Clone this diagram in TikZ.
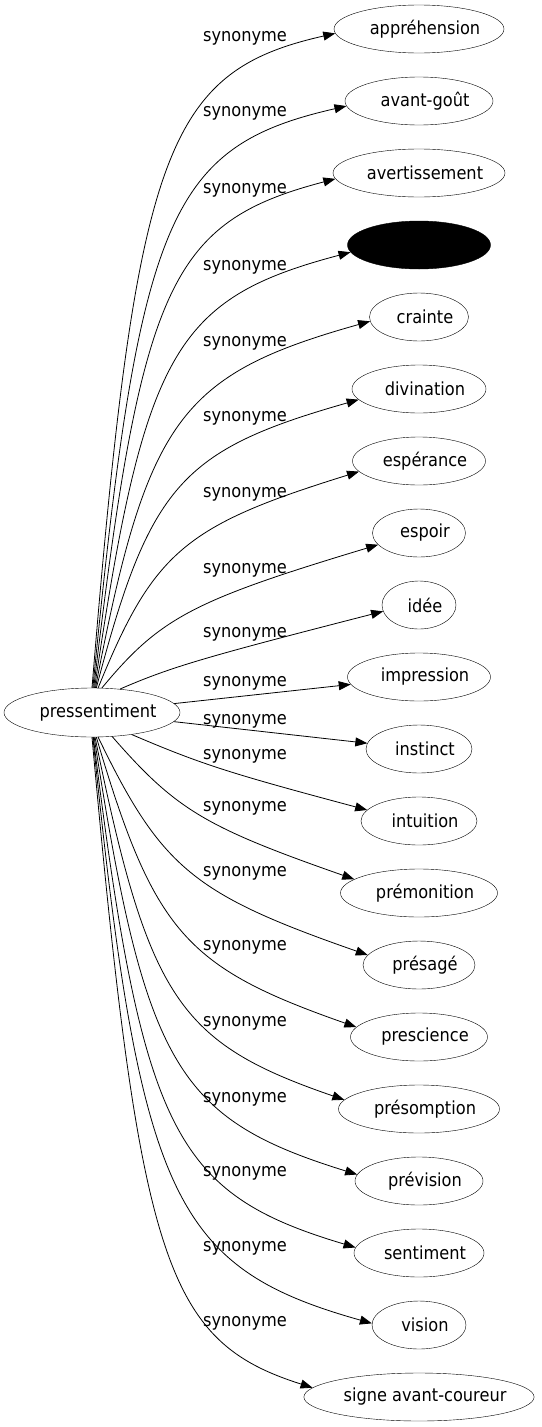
\documentclass[tikz,border=0pt]{standalone}
\usepackage{fontspec}
\setmainfont{DejaVu Sans}[FakeStretch=0.9]
\usetikzlibrary{shapes.geometric,arrows.meta,calc}

\tikzset{
  syn/.style={draw,ellipse,inner sep=0pt,minimum height=48pt,font=\fontsize{18}{20}\selectfont,
    execute at begin node=\hspace*{6pt},execute at end node=\hspace*{-6pt}},
  lbl/.style={inner sep=0pt,yshift=-2pt,font=\fontsize{18}{20}\selectfont},
  edge/.style={line width=0.8pt,-{Triangle[length=12pt,width=9pt]}}
}

\begin{document}
\begin{tikzpicture}[x=1pt,y=-1pt]
\useasboundingbox (0,0) rectangle (541,1427);

\node[syn,minimum width=176pt,minimum height=49pt] (c) at (92,712.5) {pressentiment};

\foreach \txt/\w/\f [count=\n] in {appréhension/170/white,avant-goût/148/white,avertissement/172/white,{}/143/black,crainte/99/white,divination/134/white,espérance/133/white,espoir/93/white,idée/74/white,impression/143/white,instinct/106/white,intuition/116/white,prémonition/157/white,présagé/112/white,prescience/137/white,présomption/161/white,prévision/128/white,sentiment/130/white,vision/94/white,signe avant-coureur/229/white}
  \node[syn,fill=\f,minimum width=\w pt] (N\n) at (419,{29+72*(\n-1)}) {\txt};

\foreach \ly [count=\n] in {36.7,111.7,188.3,265,341.7,416.7,492.7,568.3,632.7,681.7,719,754,806,871.7,945,1021,1097,1171.7,1246,1321}
  \node[lbl] (L\n) at (245,\ly) {synonyme};

\foreach \n/\sa/\ea/\cx/\cy in {1/90/183/142/77,2/88/184/145/152,3/86/184/148/228,4/84/186/151/305,5/82/185/154/382,6/80/190/157/457,7/76/190/161/533,8/68/196/168/608,9/40/190/178/664,12/331/168/210/768,13/310/168/185/820,14/284/169/170/886,15/280/171/162/959,16/277/173/156/1035,17/275/174/152/1111,18/273/175/149/1186,19/272/178/146/1260,20/270/175/146/1335}
  \draw[edge] (c.\sa) .. controls ($(c.\sa)!0.88!(\cx,\cy)$) and ($(N\n.\ea)!0.88!(\cx,\cy)$) .. (N\n.\ea);

\draw[edge] (c) -- (N10);
\draw[edge] (c) -- (N11);
\end{tikzpicture}
\end{document}
